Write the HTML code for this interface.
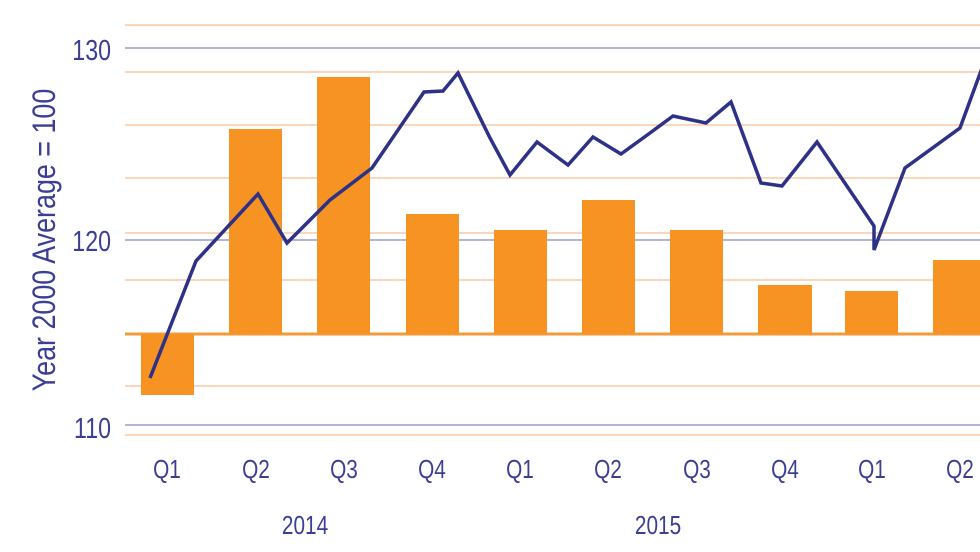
<!DOCTYPE html>
<html><head><style>
html,body{margin:0;padding:0;background:#fff;width:980px;height:552px;overflow:hidden}
text{font-family:"Liberation Sans",sans-serif;fill:#3b3f94}
</style></head><body>
<svg width="980" height="552" viewBox="0 0 980 552" xmlns="http://www.w3.org/2000/svg">
<g stroke="#f9c9a4" stroke-width="1.5">
<line x1="125" y1="25" x2="980" y2="25"/>
<line x1="125" y1="72" x2="980" y2="72"/>
<line x1="125" y1="125" x2="980" y2="125"/>
<line x1="125" y1="178" x2="980" y2="178"/>
<line x1="125" y1="233" x2="980" y2="233"/>
<line x1="125" y1="280" x2="980" y2="280"/>
<line x1="125" y1="386" x2="980" y2="386"/>
<line x1="125" y1="435" x2="980" y2="435"/>
</g>
<g stroke="#9a9ccc" stroke-width="1.5">
<line x1="125" y1="48" x2="980" y2="48"/>
<line x1="125" y1="240" x2="980" y2="240"/>
<line x1="125" y1="425" x2="980" y2="425"/>
</g>
<line x1="125" y1="334" x2="980" y2="334" stroke="#f39a3c" stroke-width="3"/>
<g fill="#f69322">
<rect x="141" y="334" width="53" height="61"/>
<rect x="229" y="129" width="53" height="205"/>
<rect x="317" y="77" width="53" height="257"/>
<rect x="406" y="214" width="53" height="120"/>
<rect x="494" y="230" width="53" height="104"/>
<rect x="582" y="200" width="53" height="134"/>
<rect x="670" y="230" width="53" height="104"/>
<rect x="758" y="285" width="54" height="49"/>
<rect x="845" y="291" width="53" height="43"/>
<rect x="933" y="260" width="47" height="74"/>
</g>
<polyline fill="none" stroke="#2e3286" stroke-width="3.5" stroke-linejoin="miter" points="150,378 196,261 258,194 287,243 330,200 372,168 424,92 443,91 458,73 490,138 510,175 537,142 568,165 593,137 621,154 650,133 673,116 706,123 731,102 761,183 782,186 817,142 874,226 874,250 905,168 960,128 985,60"/>
<g font-size="29" text-anchor="end">
<text transform="translate(111,60) scale(0.8,1)">130</text>
<text transform="translate(111,251) scale(0.8,1)">120</text>
<text transform="translate(111,438) scale(0.8,1)">110</text>
</g>
<text transform="translate(55,240) rotate(-90) scale(0.84,1)" font-size="32" text-anchor="middle">Year 2000 Average = 100</text>
<g font-size="26" text-anchor="middle" style="fill:#2a2a40">
<text transform="translate(167,478) scale(0.8,1)">Q1</text>
<text transform="translate(256,478) scale(0.8,1)">Q2</text>
<text transform="translate(344,478) scale(0.8,1)">Q3</text>
<text transform="translate(432,478) scale(0.8,1)">Q4</text>
<text transform="translate(520,478) scale(0.8,1)">Q1</text>
<text transform="translate(608,478) scale(0.8,1)">Q2</text>
<text transform="translate(697,478) scale(0.8,1)">Q3</text>
<text transform="translate(785,478) scale(0.8,1)">Q4</text>
<text transform="translate(872,478) scale(0.8,1)">Q1</text>
<text transform="translate(960,478) scale(0.8,1)">Q2</text>
<text transform="translate(305,534) scale(0.8,1)">2014</text>
<text transform="translate(658,534) scale(0.8,1)">2015</text>
</g>
</svg>
</body></html>
